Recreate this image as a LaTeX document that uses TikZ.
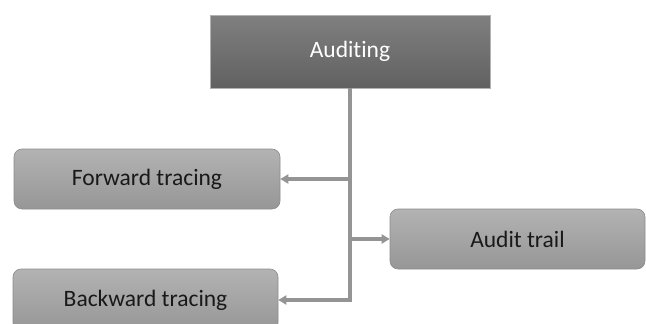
\documentclass[tikz,border=0pt]{standalone}
\usepackage{fontspec}
\setmainfont[Ligatures={NoCommon}]{Carlito}
\usetikzlibrary{arrows.meta}
\begin{document}
\begin{tikzpicture}[x=1pt,y=-1pt,
  topbox/.style={rectangle, draw=gray!60, line width=0.6pt,
    top color=black!50, bottom color=black!62,
    minimum width=280pt, minimum height=73pt, inner sep=0pt,
    text=white, font=\fontsize{23.5}{28}\selectfont},
  leafbox/.style={rectangle, rounded corners=8pt, draw=black!45, line width=0.6pt,
    top color=black!30, bottom color=black!41,
    minimum height=60pt, inner sep=0pt,
    text=black!90, font=\fontsize{23.5}{28}\selectfont},
  conn/.style={draw=black!42, line width=3.5pt,
    -{Triangle[length=8pt,width=9pt]}}]
  \useasboundingbox (0,0) rectangle (646,324);

  % root and leaves
  \node[topbox] (audit) at (350,51.5) {Auditing};
  \node[leafbox, minimum width=266pt] (fwd) at (147,179) {Forward tracing};
  \node[leafbox, minimum width=265pt, minimum height=62pt] (bwd) at (145.5,300) {Backward tracing};
  \node[leafbox, minimum width=255pt] (trail) at (517.5,239) {Audit trail};

  % trunk with branches
  \draw[conn] (audit.south) |- (bwd.east);
  \draw[conn] (audit.south |- fwd.east) -- (fwd.east);
  \draw[conn] (audit.south |- trail.west) -- (trail.west);
\end{tikzpicture}
\end{document}
